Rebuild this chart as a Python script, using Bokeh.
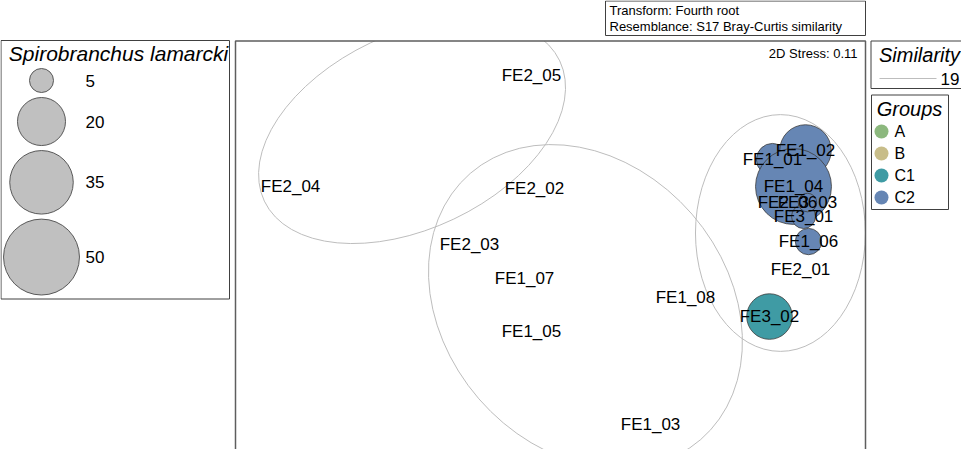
import numpy as np
from bokeh.plotting import figure
from bokeh.models import Range1d
from bokeh.core.properties import value
from bokeh.embed import file_html
from bokeh.resources import INLINE

# ---------------- data ----------------
samples = ["FE1_01", "FE1_02", "FE1_03", "FE1_04", "FE1_05", "FE1_06", "FE1_07", "FE1_08",
           "FE2_01", "FE2_02", "FE2_03", "FE2_04", "FE2_05", "FE2_06",
           "FE3_01", "FE3_02", "FE3_03"]
mds_x = [1.48, 1.70, 0.667, 1.62, -0.127, 1.72, -0.173, 0.90,
         1.667, -0.107, -0.54, -1.733, -0.127, 1.58,
         1.687, 1.46, 1.713]
mds_y = [0.62, 0.68, -1.147, 0.44, -0.527, 0.073, -0.173, -0.30,
         -0.113, 0.427, 0.053, 0.44, 1.18, 0.333,
         0.24, -0.427, 0.333]
abundance = [9, 23, 0, 50, 0, 6, 0, 0,
             0, 0, 0, 0, 0, 0,
             5, 18, 3]
groups = ["C2", "C2", "B", "C2", "B", "C2", "B", "B",
          "C2", "B", "B", "A", "A", "C2",
          "C2", "C1", "C2"]

group_names = ["A", "B", "C1", "C2"]
group_colors = ["#8CB87E", "#C8BD89", "#3F9BA4", "#6686B4"]

legend_values = [5, 20, 35, 50]
species = "Spirobranchus lamarcki"
similarity_levels = [19]
stress = 0.11
transform = "Fourth root"
resemblance = "S17 Bray-Curtis similarity"

# similarity contours (MDS units)
ell_x = [-0.923, 0.233, 1.533]
ell_y = [0.81, -0.36, 0.13]
ell_w = [2.18, 2.347, 1.133]
ell_h = [1.30, 1.88, 1.58]
ell_angle_deg = [25.4, -49.1, 0.0]

# ---------------- layout (page pixels) ----------------
W, H = 961, 449
X0, Y0 = 8, 8
box = dict(left=243, right=873, top=48.5)
px_per_unit = 150.0
origin_px = (558.0, 260.0)
font = value("Liberation Sans")
bubble_k = 5.37  # radius (px) per sqrt(abundance)

p = figure(width=W, height=H, x_range=Range1d(X0, X0 + W), y_range=Range1d(Y0 + H, Y0),
           output_backend="svg", toolbar_location=None, min_border=0,
           x_axis_location=None, y_axis_location=None, outline_line_color=None)
p.grid.visible = False
p.background_fill_color = "white"
p.border_fill_color = "white"

# MDS ranges mapped through library scales
p.extra_x_ranges = {"mds": Range1d((X0 - origin_px[0]) / px_per_unit, (X0 + W - origin_px[0]) / px_per_unit)}
p.extra_y_ranges = {"mds": Range1d((origin_px[1] - (Y0 + H)) / px_per_unit, (origin_px[1] - Y0) / px_per_unit)}

# ellipses
p.ellipse(x=ell_x, y=ell_y, width=ell_w, height=ell_h,
          angle=[np.deg2rad(a) for a in ell_angle_deg],
          fill_color=None, line_color="#BDBDBD", line_width=1,
          x_range_name="mds", y_range_name="mds")

# mask above the main box (clip)
p.quad(left=[box["left"]], right=[box["right"]], top=[Y0 - 2], bottom=[box["top"]],
       fill_color="white", line_color=None)

# main box border
p.quad(left=[box["left"]], right=[box["right"]], top=[box["top"]], bottom=[Y0 + H + 20],
       fill_color=None, line_color="#5E5E5E", line_width=1.5)

# bubbles
cmap = dict(zip(group_names, group_colors))
bx = [x for x, a in zip(mds_x, abundance) if a > 0]
by = [y for y, a in zip(mds_y, abundance) if a > 0]
bs = [2 * bubble_k * np.sqrt(a) for a in abundance if a > 0]
bc = [cmap[g] for g, a in zip(groups, abundance) if a > 0]
p.scatter(x=bx, y=by, size=bs, fill_color=bc, line_color="#3C3C3C", line_width=0.8,
          x_range_name="mds", y_range_name="mds")

# sample labels
p.text(x=mds_x, y=mds_y, text=samples, text_font=font, text_font_size="17px",
       text_align="center", text_baseline="middle", text_color="black",
       x_range_name="mds", y_range_name="mds")

# stress
p.text(x=[865], y=[61], text=[f"2D Stress: {stress}"], text_font=font, text_font_size="13px",
       text_align="right", text_baseline="middle", text_color="black")

# top info box
p.quad(left=[613], right=[873], top=[8.5], bottom=[43], fill_color="white",
       line_color="#404040", line_width=1)
p.text(x=[617, 617], y=[17.5, 34], text=[f"Transform: {transform}", f"Resemblance: {resemblance}"],
       text_font=font, text_font_size="13px", text_align="left", text_baseline="middle",
       text_color="black")

# species bubble legend
p.quad(left=[8.5], right=[237], top=[48], bottom=[306.5], fill_color=None,
       line_color="#404040", line_width=1)
p.text(x=[126], y=[61], text=[species], text_font=font, text_font_size="21px",
       text_font_style="italic", text_align="center", text_baseline="middle", text_color="black")
radii = [bubble_k * np.sqrt(v) for v in legend_values]
ly = []
cur = 76.0
for r in radii:
    ly.append(cur + r)
    cur += 2 * r + 5
p.scatter(x=[49] * len(legend_values), y=ly, size=[2 * r for r in radii],
          fill_color="#C0C0C0", line_color="#4A4A4A", line_width=0.9)
p.text(x=[93] * len(legend_values), y=ly, text=[str(v) for v in legend_values],
       text_font=font, text_font_size="17px", text_align="left", text_baseline="middle",
       text_color="black")

# similarity legend
p.quad(left=[878.5], right=[985], top=[48.5], bottom=[96], fill_color=None,
       line_color="#404040", line_width=1)
p.text(x=[927], y=[62], text=["Similarity"], text_font=font, text_font_size="20px",
       text_font_style="italic", text_align="center", text_baseline="middle", text_color="black")
p.segment(x0=[887], x1=[944], y0=[86], y1=[86], line_color="#BDBDBD", line_width=1)
p.text(x=[967], y=[86], text=[str(s) for s in similarity_levels], text_font=font,
       text_font_size="17px", text_align="right", text_baseline="middle", text_color="black")

# groups legend
p.quad(left=[879], right=[956], top=[102.5], bottom=[217], fill_color=None,
       line_color="#404040", line_width=1)
p.text(x=[917], y=[116], text=["Groups"], text_font=font, text_font_size="20px",
       text_font_style="italic", text_align="center", text_baseline="middle", text_color="black")
gy = [139 + 22 * i for i in range(len(group_names))]
p.scatter(x=[889] * len(group_names), y=gy, size=14, fill_color=group_colors, line_color=None)
p.text(x=[902] * len(group_names), y=gy, text=group_names, text_font=font,
       text_font_size="16px", text_align="left", text_baseline="middle", text_color="black")

open("out.html", "w").write(file_html(p, INLINE))
